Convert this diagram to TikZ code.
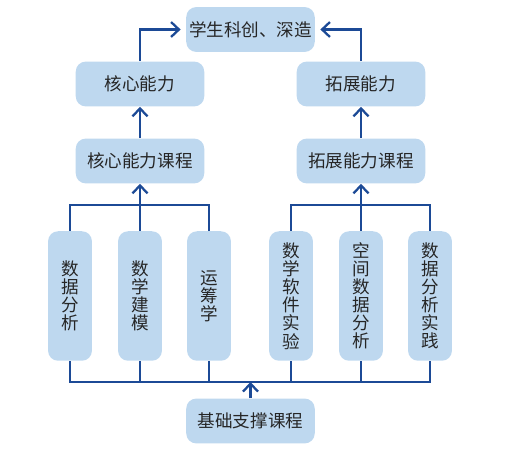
\documentclass[tikz,border=0pt]{standalone}
\usepackage{fontspec}
\newfontfamily\cjk{Noto Sans CJK SC}
\usetikzlibrary{arrows.meta}
\definecolor{boxblue}{RGB}{190,216,239}
\definecolor{linkblue}{RGB}{28,74,150}
\tikzset{
  hbox/.style={fill=boxblue, rounded corners=10pt*0.567, minimum width=129*0.567pt, minimum height=45*0.567pt, inner sep=0pt, font=\cjk\fontsize{10pt}{10.3pt}\selectfont, text=black!85},
  vbox/.style={hbox, minimum width=44*0.567pt, minimum height=130*0.567pt, align=center},
  link/.style={draw=linkblue, line width=1.3pt},
  arr/.style={link, -{Straight Barb[length=4.5pt, width=8.5pt, line width=1.3pt]}}
}
\begin{document}
\begin{tikzpicture}[x=0.02cm, y=-0.02cm]
    \useasboundingbox (0,0) rectangle (529,449);
    % top level
    \node[hbox] (top) at (250.5,29.5) {学生科创、深造};
    \node[hbox] (core) at (140,84) {核心能力};
    \node[hbox] (ext) at (361,84) {拓展能力};
    \node[hbox] (corec) at (140,161) {核心能力课程};
    \node[hbox] (extc) at (361,161) {拓展能力课程};
    % courses
    \node[vbox] (v1) at (70,296) {数\\据\\分\\析};
    \node[vbox] (v2) at (140,296) {数\\学\\建\\模};
    \node[vbox] (v3) at (209,296) {运\\筹\\学};
    \node[vbox] (v4) at (291,296) {数\\学\\软\\件\\实\\验};
    \node[vbox] (v5) at (361,296) {空\\间\\数\\据\\分\\析};
    \node[vbox] (v6) at (430,296) {数\\据\\分\\析\\实\\践};
    \node[hbox] (base) at (250.5,421) {基础支撑课程};
    \coordinate (lt) at (140,205);
    \coordinate (rt) at (361,205);
    \coordinate (bt) at (250.5,382);
    % links
    \draw[arr, shorten >=3pt] (core.north) |- (top.west);
    \draw[arr, shorten >=3pt] (ext.north) |- (top.east);
    \draw[arr] (corec.north) -- (core.south);
    \draw[arr] (extc.north) -- (ext.south);
    \draw[link] (v1.north) |- (lt) -| (v3.north);
    \draw[link] (v4.north) |- (rt) -| (v6.north);
    \draw[arr] (v2.north) -- (corec.south);
    \draw[arr] (v5.north) -- (extc.south);
    \draw[link] (v1.south) |- (bt) -| (v6.south);
    \foreach \v in {v2,v3,v4,v5}
        \draw[link] (\v.south) -- (\v.south |- bt);
    \draw[arr] (base.north) -- (bt);
\end{tikzpicture}
\end{document}
